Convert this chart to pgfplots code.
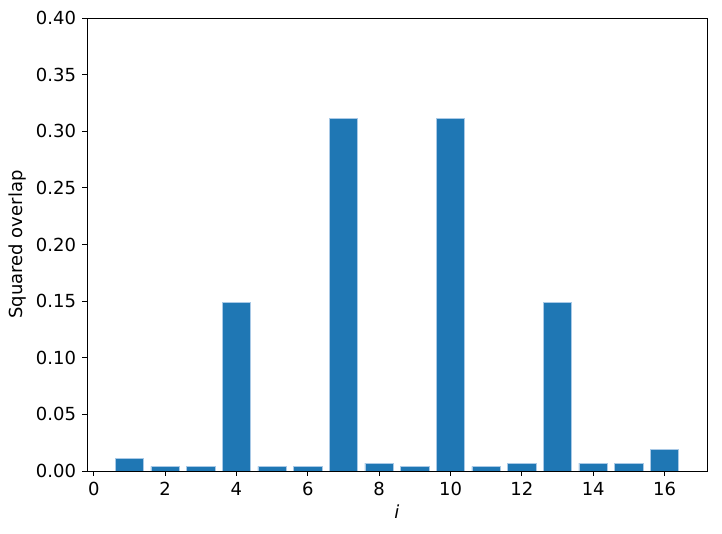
\documentclass[border=0pt]{standalone}
\usepackage{pgfplots}
\pgfplotsset{compat=1.18}
\usepackage{fontspec}
\setmainfont{DejaVu Sans}
\definecolor{barblue}{HTML}{1F77B4}
\definecolor{baredge}{HTML}{A9C9E6}
\begin{document}
\fontsize{13.5pt}{16pt}\selectfont
\begin{tikzpicture}
\begin{axis}[
  name=ax,
  scale only axis,
  width=465pt,
  height=339.75pt,
  xmin=-0.19, xmax=17.19,
  ymin=0, ymax=0.40,
  xtick={0,2,...,16},
  ytick={0,0.05,...,0.40},
  yticklabel style={/pgf/number format/fixed, /pgf/number format/fixed zerofill, /pgf/number format/precision=2},
  /pgf/number format/assume math mode=true,
  tick align=outside,
  tick pos=left,
  major tick length=3.5pt,
  tick style={black, line width=0.6pt},
  axis line style={line width=0.6pt},
  xlabel={\textit{i}},
  ylabel={Squared overlap},
  xlabel style={yshift=2pt},
  ylabel style={yshift=-2pt},
  ticklabel style={font=\fontsize{13.5pt}{16pt}\selectfont},
  label style={font=\fontsize{13.5pt}{16pt}\selectfont},
]
  \addplot[ybar, bar width=0.8, fill=barblue, draw=baredge, line width=0.5pt] coordinates {
    (1,0.011) (2,0.004) (3,0.004) (4,0.149) (5,0.004) (6,0.004) (7,0.311) (8,0.007)
    (9,0.004) (10,0.311) (11,0.004) (12,0.007) (13,0.149) (14,0.007) (15,0.007) (16,0.019)
  };
\end{axis}
\pgfresetboundingbox
\path ([shift={(-65.25pt,-47.25pt)}]ax.south west) rectangle ([shift={(11.25pt,13.5pt)}]ax.north east);
\end{tikzpicture}
\end{document}
